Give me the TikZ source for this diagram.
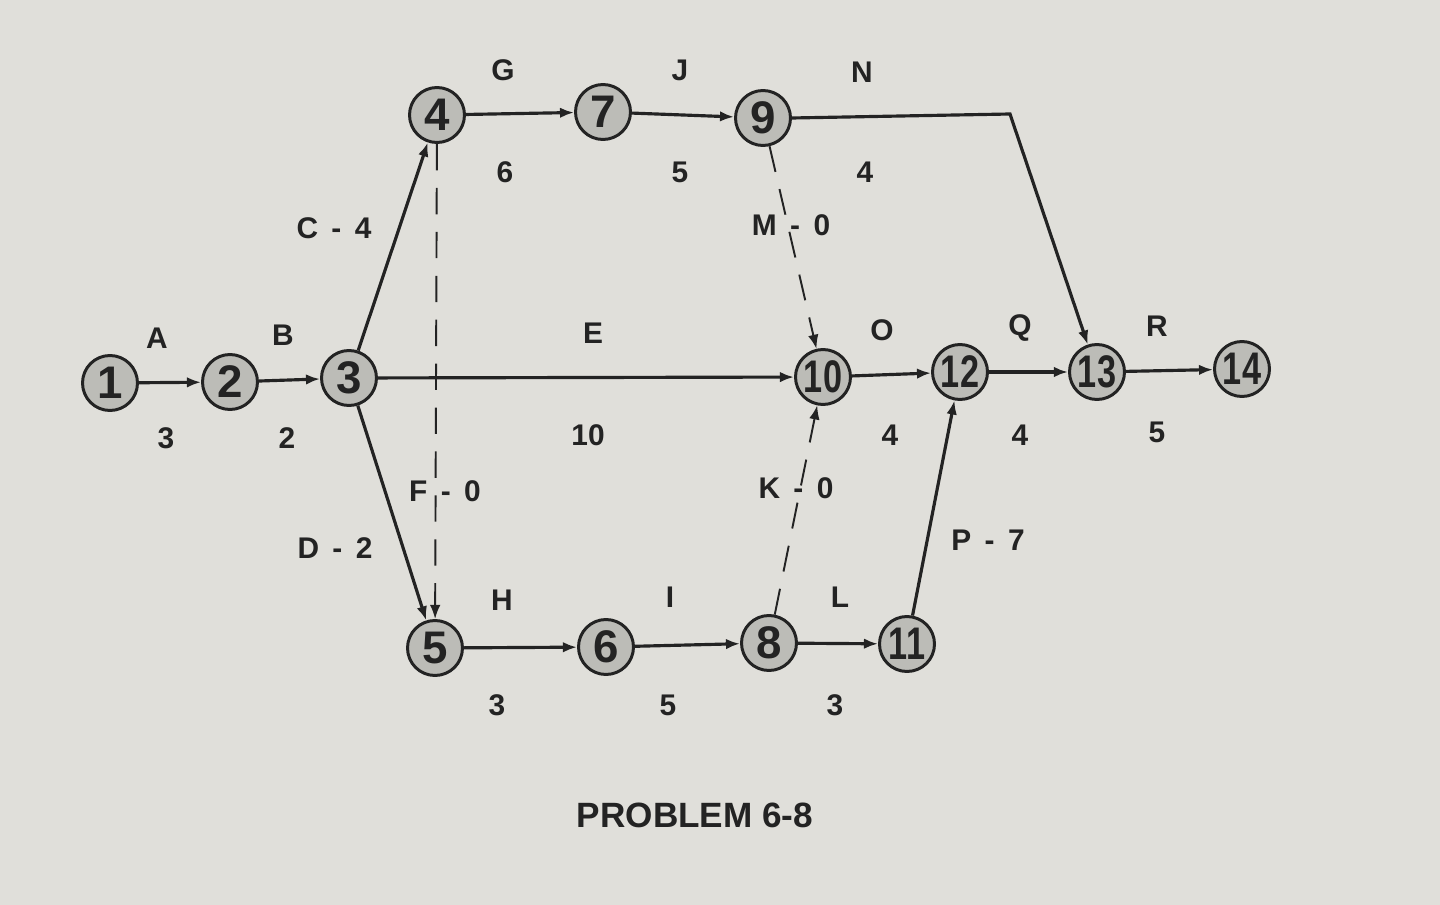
\documentclass[tikz,border=0pt]{standalone}
\usepackage{fontspec}
\setmainfont{Liberation Sans}
\usetikzlibrary{arrows.meta}
\definecolor{bg}{RGB}{224,223,218}
\definecolor{nfill}{RGB}{188,188,183}
\definecolor{ink}{RGB}{35,35,35}
\tikzset{
 ev/.style={circle,draw=ink,line width=1.7pt,fill=nfill,minimum size=1.1cm,inner sep=0pt,font=\fontsize{26}{26}\selectfont\bfseries,text=ink},
 act/.style={draw=ink,line width=1.8pt,-{Latex[length=8pt,width=6pt]}},
 dum/.style={draw=ink,line width=1.1pt,dash pattern=on 15pt off 10pt,-{Latex[length=8pt,width=6pt]}},
 lab/.style={font=\fontsize{17}{17}\selectfont\bfseries,text=ink,inner sep=0pt},
 ttl/.style={font=\fontsize{20}{20}\selectfont\bfseries,text=ink,inner sep=0pt},
}
\newcommand{\tw}[1]{\scalebox{0.75}[1]{#1}}
\newcommand{\gapsp}{\hspace{0.45em}}
\begin{document}
\begin{tikzpicture}[x=0.02cm,y=-0.02cm]
\fill[bg] (0,0) rectangle (1440,905);
\useasboundingbox (0,0) rectangle (1440,905);
% events
\node[ev] (n1) at (110,383) {1};
\node[ev] (n2) at (230,382) {2};
\node[ev] (n3) at (349,378) {3};
\node[ev] (n4) at (437,115) {4};
\node[ev] (n7) at (603,112) {7};
\node[ev] (n9) at (763,118) {9};
\node[ev] (n10) at (823,377) {\tw{10}};
\node[ev] (n12) at (960,372) {\tw{12}};
\node[ev] (n13) at (1097,372) {\tw{13}};
\node[ev] (n14) at (1242,369) {\tw{14}};
\node[ev] (n5) at (435,648) {5};
\node[ev] (n6) at (606,647) {6};
\node[ev] (n8) at (769,643) {8};
\node[ev] (n11) at (907,644) {\tw{11}};
\coordinate (cN) at (1010,114);
% activities
\draw[act] (n1) -- (n2);
\draw[act] (n2) -- (n3);
\draw[act] (n3) -- (n4);
\draw[act] (n3) -- (n5);
\draw[act] (n3) -- (n10);
\draw[dum] (n4) -- (n5);
\draw[act] (n4) -- (n7);
\draw[act] (n7) -- (n9);
\draw[act] (n9.east) -- (cN) -- (n13);
\draw[dum] (n9) -- (n10);
\draw[act] (n5) -- (n6);
\draw[act] (n6) -- (n8);
\draw[dum] (n8) -- (n10);
\draw[act] (n8) -- (n11);
\draw[act] (n11) -- (n12);
\draw[act] (n10) -- (n12);
\draw[act] (n12) -- (n13);
\draw[act] (n13) -- (n14);
% labels
\node[lab] (lA) at (157,338) {A};
\node[lab] (dA) at (166,438) {3};
\node[lab] (lB) at (283,335) {B};
\node[lab] (dB) at (287,438) {2};
\node[lab] (lC) at (334,228) {C\gapsp-\gapsp4};
\node[lab] (lD) at (335,548) {D\gapsp-\gapsp2};
\node[lab] (lE) at (593,333) {E};
\node[lab] (dE) at (588,435) {10};
\node[lab] (lF) at (445,491) {F\gapsp-\gapsp0};
\node[lab] (lG) at (503,70) {G};
\node[lab] (dG) at (505,172) {6};
\node[lab] (lJ) at (680,70) {J};
\node[lab] (dJ) at (680,172) {5};
\node[lab] (lN) at (862,72) {N};
\node[lab] (dN) at (865,172) {4};
\node[lab] (lM) at (791,225) {M\gapsp-\gapsp0};
\node[lab] (lO) at (882,330) {O};
\node[lab] (dO) at (890,435) {4};
\node[lab] (lQ) at (1020,328) {Q};
\node[lab] (dQ) at (1020,435) {4};
\node[lab] (lR) at (1157,326) {R};
\node[lab] (dR) at (1157,432) {5};
\node[lab] (lK) at (796,488) {K\gapsp-\gapsp0};
\node[lab] (lP) at (988,540) {P\gapsp-\gapsp7};
\node[lab] (lH) at (502,600) {H};
\node[lab] (dH) at (497,705) {3};
\node[lab] (lI) at (670,597) {I};
\node[lab] (dI) at (668,705) {5};
\node[lab] (lL) at (840,597) {L};
\node[lab] (dL) at (835,705) {3};
\node[ttl] (title) at (695,815) {PROBLEM 6-8};
\end{tikzpicture}
\end{document}
